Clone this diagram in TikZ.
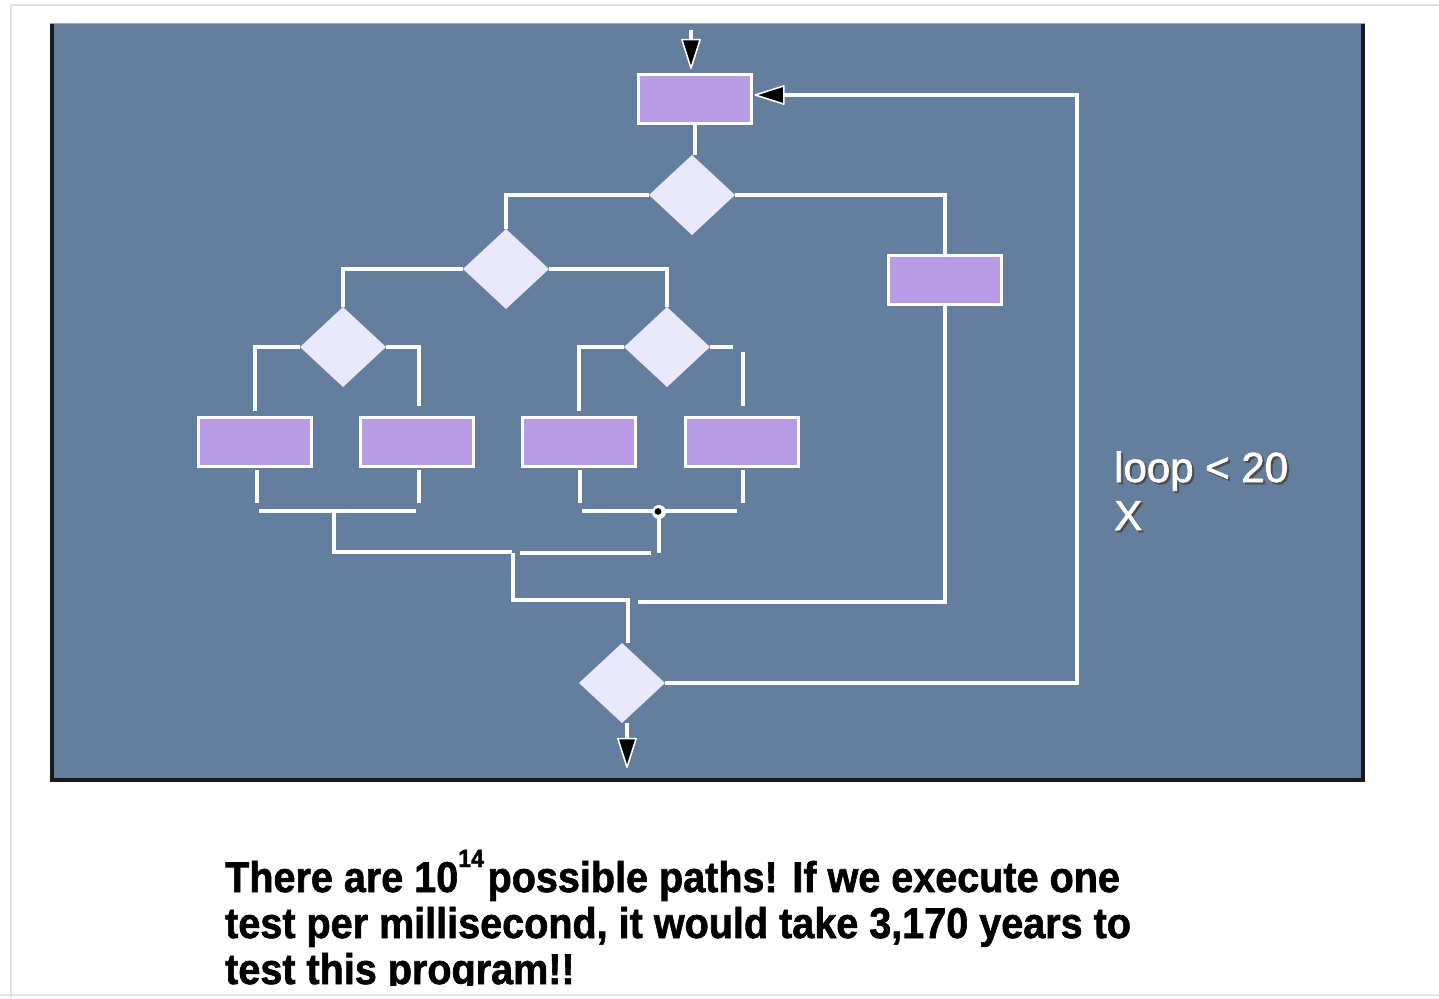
\documentclass[tikz,border=0pt]{standalone}
\usepackage{fontspec}
\setmainfont{Liberation Sans}
\newfontfamily\capfont[BoldFeatures={FakeBold=1.5}]{Liberation Sans}
\newfontfamily\lblfont[FakeBold=1.6]{Liberation Sans}
\usetikzlibrary{shapes.geometric,arrows.meta,calc}
\definecolor{panel}{HTML}{647E9E}
\definecolor{boxfill}{HTML}{B89BE5}
\definecolor{dia}{HTML}{E9E9FB}
\begin{document}
\begin{tikzpicture}[x=1pt,y=-1pt,
  box/.style={draw=white,line width=3pt,fill=boxfill,minimum width=113pt,minimum height=49pt,inner sep=0pt,outer sep=0pt},
  dec/.style={diamond,fill=dia,minimum width=86pt,minimum height=80pt,inner sep=0pt,outer sep=0pt},
  wire/.style={draw=white,line width=3.2pt},
  arr/.style={-{Triangle[length=32pt,width=20pt,fill=black,line width=1.6pt,line join=round]}},
  whitetext/.style={text=white,font=\lblfont\fontsize{42}{48}\selectfont,inner sep=0pt,anchor=base west},
  blacktext/.style={text=black,font=\capfont\fontsize{43}{46}\bfseries\selectfont,inner sep=0pt,anchor=base west}]
\useasboundingbox (0,0) rectangle (1439,998);
\fill[white] (0,0) rectangle (1439,998);
% page frame
\draw[black!12,line width=1.5pt] (11,998) -- (11,5) -- (1439,5);
\draw[black!10,line width=1.5pt] (0,995) -- (1439,995);
% panel
\fill[panel] (50,24) rectangle (1365,782);
\draw[black!35,line width=1pt] (50,24) -- (1365,24);
\draw[black!90,line width=3.5pt] (52,24) -- (52,780) -- (1363,780) -- (1363,24);

% nodes
\node[box] (b0) at (695,98.5) {};
\node[dec] (d1) at (692,195) {};
\node[dec] (d2) at (506,269) {};
\node[dec] (d3) at (343,347) {};
\node[dec] (d4) at (667,347) {};
\node[box] (r1) at (255,442) {};
\node[box] (r2) at (417,442) {};
\node[box] (r3) at (579,442) {};
\node[box] (r4) at (742,442) {};
\node[box] (r5) at (945,279.5) {};
\node[dec] (d5) at (622,683) {};

% coordinates
\coordinate (in) at (691,30);
\coordinate (out) at (627,768);
\coordinate (lp) at (1077,95);
\coordinate (c1) at (638,602);
\coordinate (g1) at (743,352);
\coordinate (h1a) at (259,511);
\coordinate (h1b) at (416,511);
\coordinate (j1) at (334,511);
\coordinate (j1b) at (334,552);
\coordinate (k1) at (512,552);
\coordinate (h2a) at (582,511);
\coordinate (h2b) at (737,511);
\coordinate (k2a) at (520,553);
\coordinate (k2b) at (651,553);
\coordinate (j2) at (513,553);
\coordinate (j3) at (628,600);

% top flow
\draw[wire,arr] (in) -- ($(in |- b0.north)+(0,-5)$);
\draw[wire] (b0.south) -- (b0.south |- d1.north);
\draw[wire] (d1.west) -| (d2.north);
\draw[wire] (d1.east) -| (r5.north);
\draw[wire] (r5.south) |- (c1);
\draw[wire] (d2.west) -| (d3.north);
\draw[wire] (d2.east) -| (d4.north);
\draw[wire] (d3.west) -| ([yshift=7pt]r1.north);
\draw[wire] (d3.east) -| ([xshift=2pt,yshift=12pt]r2.north);
\draw[wire] (d4.west) -| ([yshift=7pt]r3.north);
\draw[wire] (d4.east) -- ++(23,0);
\draw[wire] (g1) -- ([xshift=1pt,yshift=12pt]r4.north);

% bottoms of boxes
\draw[wire] ([xshift=2pt,yshift=-3pt]r1.south) -- ++(0,33);
\draw[wire] ([xshift=2pt,yshift=-3pt]r2.south) -- ++(0,33);
\draw[wire] ([xshift=1pt,yshift=-3pt]r3.south) -- ++(0,33);
\draw[wire] ([xshift=1pt,yshift=-3pt]r4.south) -- ++(0,33);
\draw[wire] (h1a) -- (h1b);
\draw[wire] (j1) -- (j1b) -- (k1);
\draw[wire] (h2a) -- (h2b);
\node[circle,fill=white,minimum size=14pt,inner sep=0pt] (jn) at (659,512) {};
\fill[black] (658,511.5) circle (3.4pt);
\draw[wire] (jn.south) -- (jn.south |- k2b);
\draw[wire] (k2a) -- (k2b);
\draw[wire] (j2) |- (j3) -- (j3 |- d5.north);

% loop back and exit
\draw[wire,arr] (d5.east) -| (lp) -- ($(b0.east |- lp)+(3,0)$);
\draw[wire,arr] (d5.south -| out) -- (out);

% label
\node[whitetext,text=black!70] at (1116,484) {loop < 20};
\node[whitetext] (lbl1) at (1114,482) {loop < 20};
\node[whitetext,text=black!70] at (1116,532) {X};
\node[whitetext] (lbl2) at (1114,530) {X};

% caption, clipped at the bottom like the original
\begin{scope}
\clip (0,0) rectangle (1439,985);
\node[blacktext] (t1) at (225,892) {\scalebox{0.92}[1]{There are 10\raisebox{25pt}{\fontsize{25}{25}\bfseries\selectfont 14}\hspace{4pt}possible paths! If we execute one}};
\node[blacktext] (t2) at (225,938) {\scalebox{0.92}[1]{test per millisecond, it would take 3,170 years to}};
\node[blacktext] (t3) at (225,984) {\scalebox{0.92}[1]{test this program!!}};
\end{scope}
\end{tikzpicture}
\end{document}
